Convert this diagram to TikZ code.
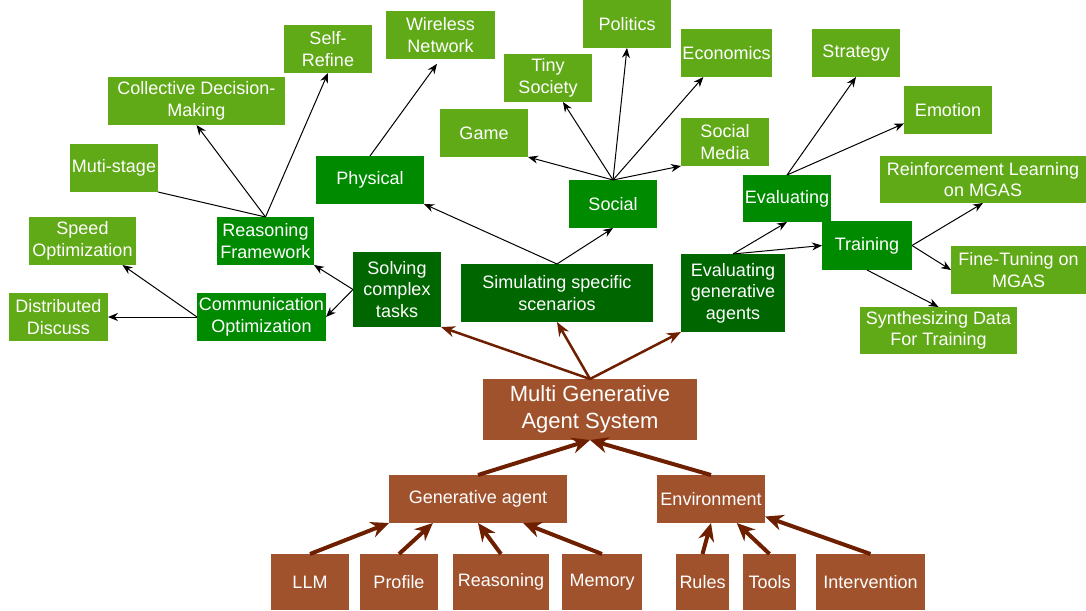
\documentclass[tikz,border=0pt]{standalone}
\usepackage{fontspec}
\setmainfont{Liberation Sans}
\usetikzlibrary{arrows.meta}
\definecolor{leafgreen}{HTML}{60A917}
\definecolor{stemgreen}{HTML}{008A00}
\definecolor{rootgreen}{HTML}{006600}
\definecolor{barkbrown}{HTML}{A0522D}
\definecolor{barkline}{HTML}{6D1F00}
\begin{document}
\begin{tikzpicture}[x=1pt,y=-1pt,
  box/.style={inner sep=0pt,outer sep=0pt,align=center,text=white,font=\fontsize{18}{21.6}\selectfont},
  leaf/.style={box,fill=leafgreen,minimum height=48pt},
  stem/.style={box,fill=stemgreen,minimum height=48pt},
  trunk/.style={box,fill=rootgreen},
  bark/.style={box,fill=barkbrown},
  thin/.style={-{Stealth[length=10pt,width=8pt]},black,line width=1pt},
  up/.style={-{Stealth[length=14pt,width=11pt]},barkline,line width=2.5pt},
  feed/.style={-{Stealth[length=18pt,width=16pt]},barkline,line width=4pt}]
\useasboundingbox (0,0) rectangle (1086,610);
\node[leaf,minimum width=109pt] (wn) at (440.5,35) {Wireless\\Network};
\node[leaf,minimum width=88pt] (sr) at (328,49) {Self-\\Refine};
\node[leaf,minimum width=177pt] (cdm) at (196.5,101) {Collective Decision-\\Making};
\node[leaf,minimum width=88pt] (ms) at (114,168) {Muti-stage};
\node[leaf,minimum width=107pt] (so) at (82.5,241) {Speed\\Optimization};
\node[leaf,minimum width=99pt] (dd) at (58.5,317) {Distributed\\Discuss};
\node[leaf,minimum width=88pt] (pol) at (627,24) {Politics};
\node[leaf,minimum width=88pt] (tiny) at (548,78) {Tiny\\Society};
\node[leaf,minimum width=91pt] (eco) at (726.5,53) {Economics};
\node[leaf,minimum width=88pt] (game) at (484,133) {Game};
\node[leaf,minimum width=88pt] (sm) at (725,142) {Social\\Media};
\node[leaf,minimum width=88pt] (str) at (856,53) {Strategy};
\node[leaf,minimum width=88pt] (emo) at (948,110) {Emotion};
\node[leaf,minimum width=206pt,minimum height=47pt] (rl) at (983,179.5) {Reinforcement Learning\\on MGAS};
\node[leaf,minimum width=135pt] (ft) at (1018.5,270) {Fine-Tuning on\\MGAS};
\node[leaf,minimum width=157pt,minimum height=47pt] (syn) at (938.5,330.5) {Synthesizing Data\\For Training};
\node[stem,minimum width=108pt] (phy) at (370,180) {Physical};
\node[stem,minimum width=97pt] (rf) at (265.5,241) {Reasoning\\Framework};
\node[stem,minimum width=129pt] (co) at (261.5,317) {Communication\\Optimization};
\node[stem,minimum width=88pt] (soc) at (613,204) {Social};
\node[stem,minimum width=88pt,minimum height=47pt] (ev) at (787,198.5) {Evaluating};
\node[stem,minimum width=90pt,minimum height=49pt] (tr) at (867,245.5) {Training};
\node[trunk,minimum width=88pt,minimum height=75pt] (sct) at (397,289.5) {Solving\\complex\\tasks};
\node[trunk,minimum width=192pt,minimum height=58pt] (sim) at (557,293) {Simulating specific\\scenarios};
\node[trunk,minimum width=104pt,minimum height=78pt] (ega) at (733,293) {Evaluating\\generative\\agents};
\node[bark,minimum width=214pt,minimum height=61pt,font=\fontsize{22}{26.4}\selectfont] (mgas) at (590,409.5) {Multi Generative\\Agent System};
\node[bark,minimum width=178pt,minimum height=48pt] (ga) at (478,499) {Generative agent};
\node[bark,minimum width=108pt,minimum height=48pt] (env) at (711,499) {Environment};
\node[bark,minimum width=78pt,minimum height=56pt] (llm) at (310,582) {LLM};
\node[bark,minimum width=78pt,minimum height=56pt] (prof) at (399,582) {Profile};
\node[bark,minimum width=96pt,minimum height=56pt] (reas) at (501,582) {Reasoning};
\node[bark,minimum width=80pt,minimum height=56pt] (mem) at (602,582) {Memory};
\node[bark,minimum width=53pt,minimum height=56pt] (rules) at (702.5,582) {Rules};
\node[bark,minimum width=53pt,minimum height=56pt] (tools) at (769.5,582) {Tools};
\node[bark,minimum width=109pt,minimum height=56pt] (intv) at (870.5,582) {Intervention};
\draw[thin] (sct.west) -- (rf.south east);
\draw[thin] (sct.west) -- (co.east);
\draw[thin] (co.west) -- (dd.east);
\draw[thin] (co.west) -- (so.-31);
\draw[thin] (rf.north) -- (cdm.south);
\draw[thin] (rf.north) -- (sr.south);
\draw[black,line width=1pt] (rf.north) -- (ms.south east);
\draw[thin,shorten >=6pt] (phy.north) -- (wn.south);
\draw[thin] (sim.north) -- (phy.south east);
\draw[thin] (sim.north) -- (soc.south);
\draw[thin] (soc.north) -- (game.south east);
\draw[thin] (soc.north) -- (tiny.-58);
\draw[thin] (soc.north) -- (pol.south);
\draw[thin] (soc.north) -- (eco.-134);
\draw[thin] (soc.north) -- (sm.south west);
\draw[thin] (ega.north) -- (ev.south);
\draw[thin] (ega.north) -- (tr.west);
\draw[thin] (ev.north) -- (str.south);
\draw[thin] (ev.north) -- (emo.-163);
\draw[thin] (tr.east) -- (rl.south);
\draw[thin] (tr.east) -- (ft.west);
\draw[thin] (tr.south) -- (syn.north);
\draw[up] (mgas.north) -- (sct.south east);
\draw[up] (mgas.north) -- (sim.south);
\draw[up] (mgas.north) -- (ega.south west);
\draw[feed] (llm.north) -- (ga.south west);
\draw[feed] (prof.north) -- (ga.-152);
\draw[feed] (reas.north) -- (ga.south);
\draw[feed] (mem.north) -- (ga.-28);
\draw[feed] (ga.north) -- (mgas.south);
\draw[feed] (env.north) -- (mgas.south);
\draw[feed] (rules.north) -- (env.south);
\draw[feed] (tools.north) -- (env.-43);
\draw[feed] (intv.north) -- (env.-18);
\end{tikzpicture}
\end{document}
